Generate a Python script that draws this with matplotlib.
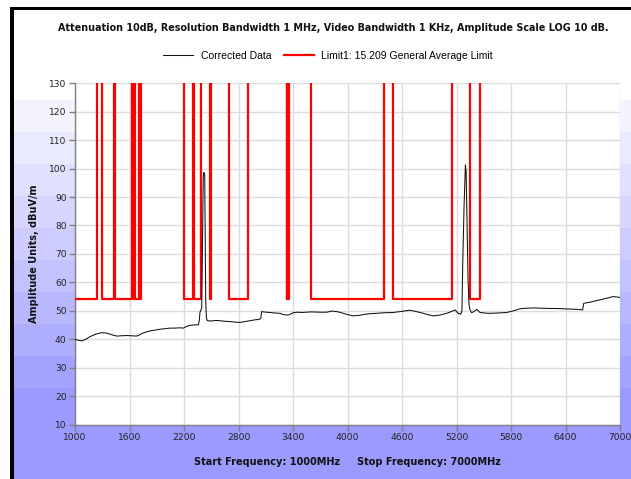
import numpy as np
import matplotlib
matplotlib.use('Agg')
import matplotlib.pyplot as plt

# ---------------- data ----------------
freq_mhz = [1000, 1040, 1073, 1120, 1165, 1230, 1294, 1340, 1385, 1420, 1459, 1510, 1569, 1620,
            1679, 1710, 1734, 1780, 1826, 1880, 1936, 1990, 2046, 2100, 2150, 2193, 2230, 2266,
            2310, 2358, 2368, 2376, 2395, 2406, 2412, 2417, 2423, 2428, 2434, 2439, 2447, 2457,
            2500, 2550, 2596, 2650, 2706, 2760, 2817, 2870, 2927, 2980, 3030, 3045, 3055, 3100,
            3147, 3200, 3257, 3300, 3350, 3404, 3450, 3500, 3600, 3700, 3771, 3830, 3900, 3954,
            4010, 4064, 4130, 4200, 4260, 4322, 4400, 4505, 4600, 4688, 4760, 4835, 4890, 4945,
            5019, 5092, 5150, 5184, 5220, 5247, 5260, 5268, 5283, 5298, 5306, 5313, 5327, 5338,
            5349, 5367, 5395, 5423, 5459, 5510, 5569, 5650, 5753, 5830, 5899, 5970, 6046, 6130,
            6230, 6300, 6376, 6450, 6523, 6589, 6600, 6680, 6743, 6800, 6853, 6926, 7000]
corrected_dbuv = [39.95, 39.6, 39.4, 40.0, 40.9, 41.8, 42.3, 42.2, 41.8, 41.4, 41.1, 41.2, 41.3, 41.2,
                  41.1, 41.5, 42.0, 42.5, 42.9, 43.2, 43.5, 43.7, 43.9, 43.9, 44.0, 43.9, 44.5, 44.9,
                  45.0, 45.1, 46.5, 49.5, 51.0, 80.6, 97.0, 98.6, 98.4, 97.9, 75.0, 53.2, 47.5, 46.5,
                  46.4, 46.6, 46.5, 46.3, 46.2, 46.0, 45.9, 46.2, 46.5, 46.8, 47.0, 47.3, 49.7, 49.5,
                  49.4, 49.2, 49.1, 48.6, 48.5, 49.3, 49.5, 49.4, 49.6, 49.5, 49.5, 49.9, 49.6, 49.1,
                  48.6, 48.2, 48.4, 48.8, 49.0, 49.1, 49.3, 49.4, 49.8, 50.2, 49.7, 49.1, 48.6, 48.2,
                  48.5, 49.1, 49.8, 50.3, 49.1, 48.8, 50.0, 65.5, 86.6, 101.3, 99.0, 86.6, 60.8, 52.0,
                  50.3, 49.3, 49.8, 50.5, 49.4, 49.2, 49.1, 49.2, 49.4, 50.0, 50.7, 50.9, 51.0, 50.9,
                  50.8, 50.8, 50.7, 50.6, 50.5, 50.3, 52.6, 53.1, 53.6, 54.0, 54.4, 55.0, 54.7]

# restricted bands where the 15.209 average limit applies
band_start = [960, 1300, 1435, 1645.5, 1660, 1718.8, 2200, 2310, 2483.5, 2690, 3332, 3345.8, 3600, 4500, 5350]
band_stop = [1240, 1427, 1626.5, 1646.5, 1710, 1722.2, 2300, 2390, 2500, 2900, 3339, 3358, 4400, 5150, 5460]
limit_level = 54.0
limit_off = 200.0

x_ticks = list(range(1000, 7001, 600))
y_ticks = list(range(10, 131, 10))

title_text = "Attenuation 10dB, Resolution Bandwidth 1 MHz, Video Bandwidth 1 KHz, Amplitude Scale LOG 10 dB."
series_labels = ["Corrected Data", "Limit1: 15.209 General Average Limit"]
y_label = "Amplitude Units, dBuV/m"
x_label = "Start Frequency: 1000MHz     Stop Frequency: 7000MHz"

# ---------------- figure ----------------
W, H = 631, 479
fig = plt.figure(figsize=(W / 100, H / 100), dpi=100, facecolor='white')

# background (gradient + frame) in pixel coordinates
bg = fig.add_axes([0, 0, 1, 1], zorder=0)
bg.set_xlim(0, W)
bg.set_ylim(H, 0)
bg.axis('off')
grad = np.ones((H, W, 3))
top_c = np.array([244, 244, 255]) / 255.0
bot_c = np.array([154, 154, 255]) / 255.0
g0, g1, nsteps = 100, 420, 10
for yy in range(H):
    if yy < g0:
        continue
    if yy >= g1:
        c = bot_c
    else:
        s = int((yy - g0) / (g1 - g0) * nsteps)
        t = s / (nsteps - 1)
        c = top_c + (bot_c - top_c) * t
    grad[yy, 14:, :] = c
bg.imshow(grad, extent=[0, W, H, 0], aspect='auto', interpolation='nearest')
# black frame (top and left)
bg.add_patch(plt.Rectangle((10, 7), W, 3, color='black', lw=0))
bg.add_patch(plt.Rectangle((10, 7), 4, H, color='black', lw=0))

# main axes
left, right, top, bottom = 75, 620, 83.3, 424.5
ax = fig.add_axes([left / W, 1 - bottom / H, (right - left) / W, (bottom - top) / H], zorder=2)
ax.set_facecolor('white')

# limit step line
lx, ly = [], []
for s, e in zip(band_start, band_stop):
    lx += [s, s, e, e]
    ly += [limit_off, limit_level, limit_level, limit_off]
l2, = ax.plot(lx, ly, color='#FF0000', lw=1.6, zorder=3, label=series_labels[1])
l1, = ax.plot(freq_mhz, corrected_dbuv, color='#111111', lw=0.75, zorder=4, label=series_labels[0])

ax.set_xlim(1000, 7000)
ax.set_ylim(10, 130)
ax.set_xticks(x_ticks)
ax.set_yticks(y_ticks)
ax.grid(True, color='#DCDCDC', lw=1.0, zorder=0)
ax.set_axisbelow(True)
for sp in ['top', 'right']:
    ax.spines[sp].set_visible(False)
for sp in ['left', 'bottom']:
    ax.spines[sp].set_color('#808080')
    ax.spines[sp].set_linewidth(1.0)
ax.tick_params(axis='both', direction='out', length=4, width=1, color='#808080',
               labelsize=6.6, labelcolor='#222222', pad=2)

fig.text(left / W - 41 / W, 1 - 254 / H, y_label, rotation=90, ha='center', va='center',
         fontsize=7.0, fontweight='bold', color='#111111')
fig.text(347 / W, 1 - 462 / H, x_label, ha='center', va='center',
         fontsize=7.0, fontweight='bold', color='#111111')
fig.text(333 / W, 1 - 28 / H, title_text, ha='center', va='center',
         fontsize=6.9, fontweight='bold', color='#111111')

leg = fig.legend(handles=[l1, l2], loc='center', bbox_to_anchor=(328 / W, 1 - 56 / H), ncol=2,
                 frameon=False, prop={'family': 'Liberation Sans', 'size': 7.5},
                 handlelength=2.9, handletextpad=0.7, columnspacing=1.2)

fig.savefig('out.png', dpi=100, facecolor='white')
